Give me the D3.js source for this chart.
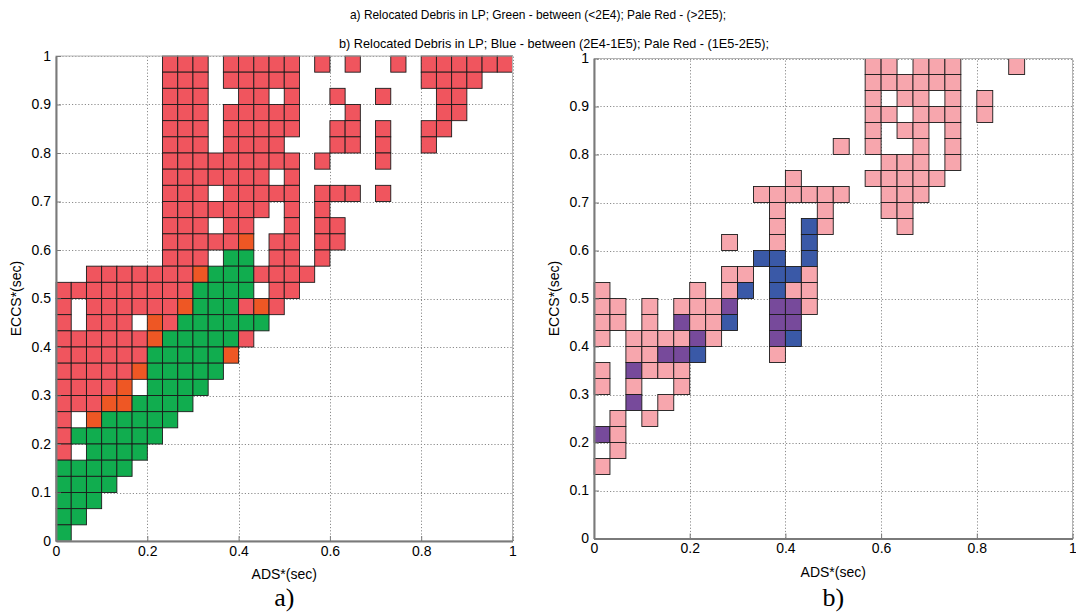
<!DOCTYPE html>
<html>
<head>
<meta charset="utf-8">
<script src="https://cdn.jsdelivr.net/npm/d3@7"></script>
<style>
body { margin: 0; background: #fff; }
svg text { font-family: 'Liberation Sans Narrow', 'Arial Narrow', 'Liberation Sans', Arial, sans-serif; fill: #000; }
.grid line { stroke: #8c8c8c; stroke-width: 1; stroke-dasharray: 1.2,2; }
.axis path, .axis line { stroke: #7a7a7a; }
</style>
</head>
<body>
<div id="chart"></div>
<script>
// bins are 1/30 wide in both directions; rows listed from top (bin 29) down to bin 0
const nBins = 30;

// panel a: r = pale red (>2E5), g = green (<2E4), o = orange (overlap)
const gridA = [
  ".......rrr.rrrrr.r.r..r.rrrrrr",
  ".......rrr.rrrrr........rrrr",
  ".......rrr..rr.r..r..r...rr",
  ".......rrr.rrrrr...r.....rr",
  ".......rrr.rrrrr..rr.r..rr",
  ".......rrr.rrrr...rr.r..r",
  ".......rrrrrrrrr.r...r",
  ".......rrrrrrr.r",
  ".......rrr.rrrrr.rrr.r",
  ".......rrrrrrr.r.r",
  ".......rrr.rr..r.rr",
  ".......rrrrro.rr.rr",
  ".......rrr.gg.rr.r",
  "..rrrrrrrogggrrrr",
  "rrrrrrrrrgggg.rr",
  "r.rrrrrrogggror",
  "r.rrr.orgggggg",
  "rrrrrrogggggr",
  "rrrrrrgggggo",
  "rrrrroggggg",
  "rrrro.gggg",
  "rrroogggg",
  "r.oggggg",
  "rgggggg",
  "r.gggg",
  "ggggg",
  "gggg",
  "ggg",
  "gg",
  "g"
];

// panel b: p = pale red (1E5-2E5), b = blue (2E4-1E5), v = purple (overlap)
const gridB = [
  ".................pp.ppp...p",
  ".................pppppp",
  ".................p.pp.p.p",
  ".................pp.ppp.p",
  ".................p.pp.p",
  "...............p.p..p.p",
  "..................ppp.p",
  "............p....ppppp",
  "..........pppppp..ppp",
  "...........p..p...pp",
  "...........p.bp....p",
  "........p..p.b",
  "..........bb.b",
  "........pp.bbp",
  "p.....p.pb.bpp",
  "pp.p.pppv..vvp",
  "pp.p.vppb..vv",
  "p.ppppvp...vb",
  "..ppvvb....p",
  "p.vppp",
  "p.p..p",
  "..v.p",
  ".p.p",
  "vp",
  ".p",
  "p",
  "",
  "",
  "",
  ""
];

const colorsA = { r: "#f0555e", g: "#11ad4f", o: "#ee5724" };
const colorsB = { p: "#f7a6ad", b: "#3a59a7", v: "#774a9b" };

const xTicks = [0, 0.2, 0.4, 0.6, 0.8, 1];
const yTicks = [0, 0.1, 0.2, 0.3, 0.4, 0.5, 0.6, 0.7, 0.8, 0.9, 1];

const titleA = "a) Relocated Debris in LP; Green - between (<2E4); Pale Red - (>2E5);";
const titleB = "b) Relocated Debris in LP; Blue - between (2E4-1E5); Pale Red - (1E5-2E5);";
const xLabel = "ADS*(sec)";
const yLabel = "ECCS*(sec)";

const W = 1076, H = 615;

const svg = d3.select("#chart").append("svg")
  .attr("width", W)
  .attr("height", H);

// titles (condensed to the narrow face of the original)
svg.append("text").attr("x", 538).attr("y", 19).attr("text-anchor", "middle")
  .attr("textLength", 376).attr("lengthAdjust", "spacingAndGlyphs")
  .style("font-size", "13px").text(titleA);
svg.append("text").attr("x", 554).attr("y", 48).attr("text-anchor", "middle")
  .attr("textLength", 430).attr("lengthAdjust", "spacingAndGlyphs")
  .style("font-size", "13px").text(titleB);

function toCells(grid) {
  const cells = [];
  grid.forEach((row, i) => {
    const line = row.padEnd(nBins, ".");
    const bin = nBins - 1 - i;
    for (let c = 0; c < nBins; c++) {
      if (line[c] !== ".") cells.push({ xb: c, yb: bin, k: line[c] });
    }
  });
  return cells;
}

function fmt(d) {
  return (d === 0 || d === 1) ? String(d) : d.toFixed(1);
}

function drawPanel(opt) {
  const x = d3.scaleLinear().domain([0, 1]).range([opt.left, opt.right]);
  const y = d3.scaleLinear().domain([0, 1]).range([opt.bottom, opt.top]);
  const g = svg.append("g");

  // dotted grid
  const grid = g.append("g").attr("class", "grid");
  grid.selectAll(".gx").data(xTicks).join("line")
    .attr("x1", d => Math.round(x(d)) + 0.5).attr("x2", d => Math.round(x(d)) + 0.5)
    .attr("y1", y(0)).attr("y2", y(1));
  grid.selectAll(".gy").data(yTicks).join("line")
    .attr("y1", d => Math.round(y(d)) + 0.5).attr("y2", d => Math.round(y(d)) + 0.5)
    .attr("x1", x(0)).attr("x2", x(1));

  // cells
  const step = 1 / nBins;
  g.append("g").selectAll("rect")
    .data(toCells(opt.grid))
    .join("rect")
    .attr("x", d => x(d.xb * step))
    .attr("y", d => y((d.yb + 1) * step))
    .attr("width", d => x((d.xb + 1) * step) - x(d.xb * step))
    .attr("height", d => y(d.yb * step) - y((d.yb + 1) * step))
    .attr("fill", d => opt.colors[d.k])
    .attr("stroke", "#1b1b1b")
    .attr("stroke-width", 0.9);

  // box
  g.append("rect")
    .attr("x", x(0)).attr("y", y(1))
    .attr("width", x(1) - x(0)).attr("height", y(0) - y(1))
    .attr("fill", "none").attr("stroke", "#b5b5b5").attr("stroke-width", 1);

  // axes with inward ticks
  const ax = g.append("g").attr("class", "axis")
    .attr("transform", `translate(0,${y(0)})`)
    .call(d3.axisBottom(x).tickValues(xTicks).tickFormat(fmt).tickSizeInner(-5).tickSizeOuter(0).tickPadding(5));
  ax.selectAll("text").style("font-size", "14px");
  ax.select(".domain").attr("stroke-width", 2);

  const ay = g.append("g").attr("class", "axis")
    .attr("transform", `translate(${x(0)},0)`)
    .call(d3.axisLeft(y).tickValues(yTicks).tickFormat(fmt).tickSizeInner(-5).tickSizeOuter(0).tickPadding(5));
  ay.selectAll("text").style("font-size", "14px");
  ay.select(".domain").attr("stroke-width", 2);

  // axis labels
  g.append("text")
    .attr("x", (x(0) + x(1)) / 2).attr("y", opt.bottom + 38)
    .attr("text-anchor", "middle").style("font-size", "14px")
    .text(xLabel);
  g.append("text")
    .attr("transform", `translate(${opt.left - 35},${(opt.top + opt.bottom) / 2}) rotate(-90)`)
    .attr("text-anchor", "middle").style("font-size", "14px")
    .text(yLabel);

  // panel tag
  g.append("text")
    .attr("x", (x(0) + x(1)) / 2).attr("y", 606)
    .attr("text-anchor", "middle")
    .style("font-family", "'Liberation Serif', 'Times New Roman', serif")
    .style("font-size", "26px")
    .text(opt.tag);
}

drawPanel({ grid: gridA, colors: colorsA, left: 56, right: 512.5, top: 56, bottom: 541, tag: "a)" });
drawPanel({ grid: gridB, colors: colorsB, left: 594, right: 1072.5, top: 58.5, bottom: 538.5, tag: "b)" });
</script>
</body>
</html>
